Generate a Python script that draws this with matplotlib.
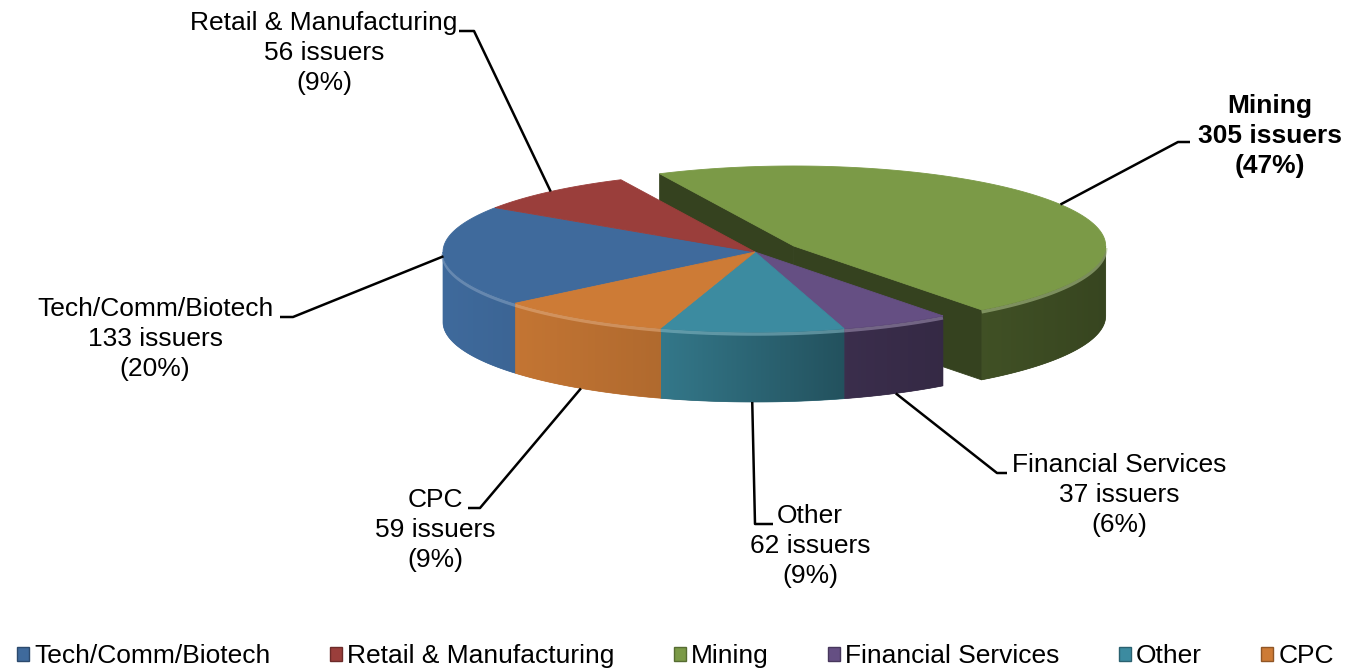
import numpy as np
import matplotlib.pyplot as plt
from matplotlib.patches import Polygon, Patch
from matplotlib.colors import to_rgb

# data
sectors = ["Tech/Comm/Biotech", "Retail & Manufacturing", "Mining",
           "Financial Services", "Other", "CPC"]
issuers = [133, 56, 305, 37, 62, 59]
shares = ["20%", "9%", "47%", "6%", "9%", "9%"]
colors = ["#3F6A9C", "#9A3E3B", "#7B9A47", "#654F83", "#3C8BA0", "#CD7B36"]
exploded = "Mining"

# layout of the 3d pie (pixel units)
W, H = 1351, 671
cx, cy = 755, 252
rx, ry = 312, 80
depth = 70
start = 219.8
explode = 0.145

# label blocks: centre of text block, elbow of leader line, short tick length
label_pos = {
    "Tech/Comm/Biotech": ((155, 339), (293, 317), -13),
    "Retail & Manufacturing": ((324, 53), (474, 31), -15),
    "Mining": ((1270, 136), (1178, 142), 12),
    "Financial Services": ((1119, 495), (997, 473), 10),
    "Other": ((810, 546), (755, 524), 18),
    "CPC": ((435, 530), (480, 508), -12),
}

plt.rcParams['font.family'] = ['Liberation Sans', 'DejaVu Sans']

fig = plt.figure(figsize=(W / 100, H / 100), dpi=100)
ax = fig.add_axes([0, 0, 1, 1])


def pt(theta, ox=0.0, oy=0.0, dz=0.0):
    t = np.radians(theta)
    return cx + ox + rx * np.cos(t), cy + oy - ry * np.sin(t) + dz


def shade_cos(c):
    return np.interp(c, [-1, -0.3, 0.3, 1], [1.0, 0.86, 0.58, 0.45])


def scaled(col, f):
    return tuple(np.clip(np.array(to_rgb(col)) * f, 0, 1))


def lighter(col, f):
    c = np.array(to_rgb(col))
    return tuple(c + (1 - c) * f)


# wedge angles (clockwise from start)
fracs = np.array(issuers) / sum(issuers)
ends = start - np.cumsum(fracs) * 360
begins = np.concatenate([[start], ends[:-1]])

wedges = []
for name, col, a0, a1 in zip(sectors, colors, begins, ends):
    mid = (a0 + a1) / 2
    if name == exploded:
        ox = explode * rx * np.cos(np.radians(mid))
        oy = -explode * ry * np.sin(np.radians(mid))
    else:
        ox = oy = 0.0
    wedges.append(dict(name=name, col=col, lo=a1, hi=a0, mid=mid, ox=ox, oy=oy))


def front_ranges(lo, hi):
    out = []
    for base in (-360, 0, 360):
        s, e = max(lo, base + 180), min(hi, base + 360)
        if e > s:
            out.append((s, e))
    return out


def draw_side(w, z=2):
    ox, oy = w['ox'], w['oy']
    for s, e in front_ranges(w['lo'], w['hi']):
        th = np.linspace(s, e, 100)
        top = [pt(t, ox, oy) for t in th]
        bot = [pt(t, ox, oy, depth) for t in th[::-1]]
        verts = np.array(top + bot)
        x0, x1 = verts[:, 0].min(), verts[:, 0].max()
        y0, y1 = verts[:, 1].min(), verts[:, 1].max()
        midc = shade_cos(np.cos(np.radians((s + e) / 2)))
        base = Polygon(verts, closed=True, facecolor=scaled(w['col'], midc),
                       edgecolor=scaled(w['col'], midc), lw=0.5, zorder=z)
        ax.add_patch(base)
        xs = np.linspace(x0, x1, 200)
        f = shade_cos((xs - cx - ox) / rx)
        img = np.array([scaled(w['col'], fi) for fi in f])[None, :, :]
        im = ax.imshow(img, extent=(x0, x1, y1, y0), aspect='auto',
                       interpolation='bilinear', zorder=z + 0.1)
        im.set_clip_path(base)
        # bevel highlight along the rim
        xs_, ys_ = zip(*[pt(t, ox, oy, 2) for t in th])
        ax.plot(xs_, ys_, color=lighter(w['col'], 0.35), lw=2.5, alpha=0.6,
                zorder=z + 0.2, solid_capstyle='butt')


def draw_top(w, z=3):
    th = np.linspace(w['lo'], w['hi'], 120)
    apex = (cx + w['ox'], cy + w['oy'])
    pts = [apex] + [pt(t, w['ox'], w['oy']) for t in th]
    ax.add_patch(Polygon(pts, closed=True, facecolor=w['col'],
                         edgecolor=w['col'], lw=0.6, zorder=z))


# exploded wedge: cut faces, outer side, top
for w in wedges:
    if w['name'] != exploded:
        continue
    dark = scaled(w['col'], 0.43)
    apex_t = (cx + w['ox'], cy + w['oy'])
    apex_b = (cx + w['ox'], cy + w['oy'] + depth)
    for t in (w['hi'], w['lo']):
        ax.add_patch(Polygon([apex_t, pt(t, w['ox'], w['oy']),
                              pt(t, w['ox'], w['oy'], depth), apex_b],
                             closed=True, facecolor=dark, edgecolor=dark,
                             lw=0.6, zorder=1))
    draw_side(w)
    draw_top(w)

# the rest of the pie
for w in wedges:
    if w['name'] != exploded:
        draw_side(w)
for w in wedges:
    if w['name'] != exploded:
        draw_top(w)

# labels with leader lines
for w, n, sh in zip(wedges, issuers, shares):
    (tx, ty), (ex, ey), tick = label_pos[w['name']]
    px, py = pt(w['mid'], w['ox'], w['oy'])
    if np.sin(np.radians(w['mid'])) < -0.3:
        py += depth
    ax.plot([px, ex, ex + tick], [py, ey, ey], color='black', lw=1.8,
            zorder=6, solid_capstyle='butt')
    bold = 'bold' if w['name'] == exploded else 'normal'
    ax.text(tx, ty, f"{w['name']}\n{n} issuers\n({sh})", ha='center',
            va='center', fontsize=19, linespacing=1.3, fontweight=bold,
            color='black', zorder=7)

ax.set_xlim(0, W)
ax.set_ylim(H, 0)
ax.axis('off')

handles = [Patch(facecolor=c, edgecolor=scaled(c, 0.7), lw=1) for c in colors]
fig.legend(handles, sectors, ncol=6, loc='center',
           bbox_to_anchor=(0.5, 1 - 656 / H), frameon=False, fontsize=19,
           handlelength=0.45, handleheight=0.45, handletextpad=0.2,
           columnspacing=2.25)

fig.savefig("out.png", dpi=100)
